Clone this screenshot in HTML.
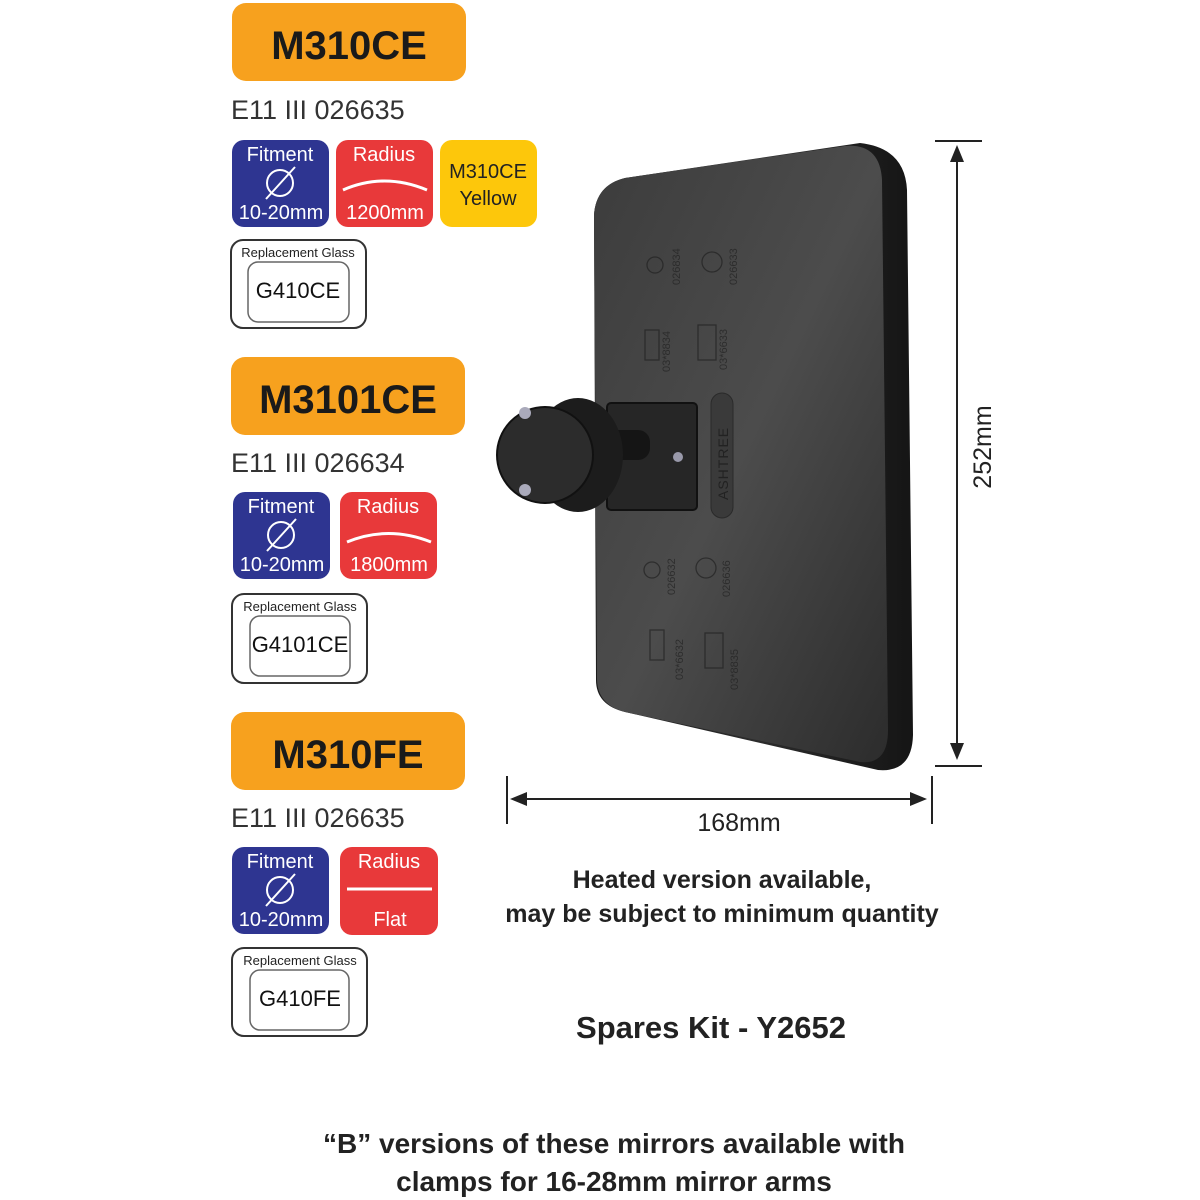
<!DOCTYPE html>
<html><head><meta charset="utf-8"><style>
html,body{margin:0;padding:0;background:#fff;}
svg{display:block;font-family:"Liberation Sans",sans-serif;}
</style></head><body>
<svg width="1200" height="1200" viewBox="0 0 1200 1200" xmlns="http://www.w3.org/2000/svg">
<defs>
<linearGradient id="face" x1="0" y1="0" x2="1" y2="1">
<stop offset="0" stop-color="#3c3c3c"/><stop offset="0.5" stop-color="#4c4c4c"/><stop offset="1" stop-color="#2c2c2c"/>
</linearGradient>
<linearGradient id="side" x1="0" y1="0" x2="1" y2="0">
<stop offset="0" stop-color="#1a1a1a"/><stop offset="0.5" stop-color="#2c2c2c"/><stop offset="1" stop-color="#151515"/>
</linearGradient>
<g id="fit">
<rect x="0" y="0" width="97" height="87" rx="12" fill="#2e3591"/>
<text x="48" y="21" font-size="20" fill="#fff" text-anchor="middle">Fitment</text>
<circle cx="48" cy="43" r="13" fill="none" stroke="#fff" stroke-width="2"/>
<line x1="34" y1="59" x2="63" y2="27" stroke="#fff" stroke-width="2"/>
<text x="49" y="79" font-size="20" fill="#fff" text-anchor="middle">10-20mm</text>
</g>
</defs>

<!-- Section 1 -->
<rect x="232" y="3" width="234" height="78" rx="14" fill="#f7a11e"/>
<text x="349" y="59" font-size="40" font-weight="bold" fill="#1a1a1a" text-anchor="middle">M310CE</text>
<text x="231" y="119" font-size="27" fill="#333">E11 III 026635</text>
<use href="#fit" x="232" y="140"/>
<rect x="336" y="140" width="97" height="87" rx="12" fill="#e8393a"/>
<text x="384" y="161" font-size="20" fill="#fff" text-anchor="middle">Radius</text>
<path d="M343,190 Q384,172 427,190" fill="none" stroke="#fff" stroke-width="3"/>
<text x="385" y="219" font-size="20" fill="#fff" text-anchor="middle">1200mm</text>
<rect x="440" y="140" width="97" height="87" rx="12" fill="#fdc70b"/>
<text x="488" y="178" font-size="20" fill="#222" text-anchor="middle">M310CE</text>
<text x="488" y="205" font-size="20" fill="#222" text-anchor="middle">Yellow</text>
<rect x="231" y="240" width="135" height="88" rx="12" fill="#fff" stroke="#333" stroke-width="2"/>
<text x="298" y="257" font-size="13" fill="#222" text-anchor="middle">Replacement Glass</text>
<rect x="248" y="262" width="101" height="60" rx="10" fill="#fff" stroke="#666" stroke-width="1.5"/>
<text x="298" y="298" font-size="22" fill="#111" text-anchor="middle">G410CE</text>

<!-- Section 2 -->
<rect x="231" y="357" width="234" height="78" rx="14" fill="#f7a11e"/>
<text x="348" y="413" font-size="40" font-weight="bold" fill="#1a1a1a" text-anchor="middle">M3101CE</text>
<text x="231" y="472" font-size="27" fill="#333">E11 III 026634</text>
<use href="#fit" x="233" y="492"/>
<rect x="340" y="492" width="97" height="87" rx="12" fill="#e8393a"/>
<text x="388" y="513" font-size="20" fill="#fff" text-anchor="middle">Radius</text>
<path d="M347,542 Q388,525 431,542" fill="none" stroke="#fff" stroke-width="3"/>
<text x="389" y="571" font-size="20" fill="#fff" text-anchor="middle">1800mm</text>
<rect x="232" y="594" width="135" height="89" rx="12" fill="#fff" stroke="#333" stroke-width="2"/>
<text x="300" y="611" font-size="13" fill="#222" text-anchor="middle">Replacement Glass</text>
<rect x="250" y="616" width="100" height="60" rx="10" fill="#fff" stroke="#666" stroke-width="1.5"/>
<text x="300" y="652" font-size="22" fill="#111" text-anchor="middle">G4101CE</text>

<!-- Section 3 -->
<rect x="231" y="712" width="234" height="78" rx="14" fill="#f7a11e"/>
<text x="348" y="768" font-size="40" font-weight="bold" fill="#1a1a1a" text-anchor="middle">M310FE</text>
<text x="231" y="827" font-size="27" fill="#333">E11 III 026635</text>
<use href="#fit" x="232" y="847"/>
<rect x="340" y="847" width="98" height="88" rx="12" fill="#e8393a"/>
<text x="389" y="868" font-size="20" fill="#fff" text-anchor="middle">Radius</text>
<line x1="347" y1="889" x2="432" y2="889" stroke="#fff" stroke-width="3"/>
<text x="390" y="926" font-size="20" fill="#fff" text-anchor="middle">Flat</text>
<rect x="232" y="948" width="135" height="88" rx="12" fill="#fff" stroke="#333" stroke-width="2"/>
<text x="300" y="965" font-size="13" fill="#222" text-anchor="middle">Replacement Glass</text>
<rect x="250" y="970" width="99" height="60" rx="10" fill="#fff" stroke="#666" stroke-width="1.5"/>
<text x="300" y="1006" font-size="22" fill="#111" text-anchor="middle">G410FE</text>

<!-- Mirror -->
<path d="M860,143 Q905,148 907,190 L913,735 Q912,773 878,770 L625,712 Q596,705 596,680 L594,215 Q596,185 625,178 Z" fill="url(#side)"/>
<path d="M625,178 L845,146 Q880,143 882,180 L888,730 Q888,765 860,762 L625,712 Q598,705 597,680 L594,215 Q596,185 625,178 Z" fill="url(#face)"/>
<g fill="none" stroke="#222" stroke-width="1.3" opacity="0.7">
<circle cx="655" cy="265" r="8"/><circle cx="712" cy="262" r="10"/>
<rect x="645" y="330" width="14" height="30"/><rect x="698" y="325" width="18" height="35"/>
<circle cx="652" cy="570" r="8"/><circle cx="706" cy="568" r="10"/>
<rect x="650" y="630" width="14" height="30"/><rect x="705" y="633" width="18" height="35"/>
</g>
<g fill="#222" font-size="11" opacity="0.7">
<text transform="translate(680,285) rotate(-90)">026834</text>
<text transform="translate(737,285) rotate(-90)">026633</text>
<text transform="translate(670,372) rotate(-90)">03*8834</text>
<text transform="translate(727,370) rotate(-90)">03*6633</text>
<text transform="translate(675,595) rotate(-90)">026632</text>
<text transform="translate(730,597) rotate(-90)">026636</text>
<text transform="translate(683,680) rotate(-90)">03*6632</text>
<text transform="translate(738,690) rotate(-90)">03*8835</text>
</g>
<rect x="711" y="393" width="22" height="125" rx="11" fill="#3a3a3a" stroke="#2a2a2a"/>
<text transform="translate(728,500) rotate(-90)" font-size="14" fill="#222" letter-spacing="1">ASHTREE</text>
<rect x="607" y="403" width="90" height="107" rx="4" fill="#262626" stroke="#111" stroke-width="2"/>
<rect x="600" y="430" width="50" height="30" rx="12" fill="#151515"/>
<circle cx="678" cy="457" r="5" fill="#99a"/>
<ellipse cx="578" cy="455" rx="45" ry="57" fill="#1c1c1c"/>
<circle cx="545" cy="455" r="48" fill="#2c2c2c" stroke="#111" stroke-width="2"/>
<circle cx="525" cy="413" r="6" fill="#aab"/>
<circle cx="525" cy="490" r="6" fill="#aab"/>

<!-- Dimensions -->
<g stroke="#222" stroke-width="2" fill="#222">
<line x1="935" y1="141" x2="982" y2="141"/>
<line x1="935" y1="766" x2="982" y2="766"/>
<line x1="957" y1="160" x2="957" y2="745"/>
<path d="M950,162 L957,145 L964,162 Z" stroke="none"/>
<path d="M950,743 L957,760 L964,743 Z" stroke="none"/>
<line x1="507" y1="776" x2="507" y2="824"/>
<line x1="932" y1="776" x2="932" y2="824"/>
<line x1="525" y1="799" x2="912" y2="799"/>
<path d="M527,792 L510,799 L527,806 Z" stroke="none"/>
<path d="M910,792 L927,799 L910,806 Z" stroke="none"/>
</g>
<text transform="translate(991,447) rotate(-90)" font-size="25" fill="#222" text-anchor="middle">252mm</text>
<text x="739" y="831" font-size="25" fill="#222" text-anchor="middle">168mm</text>

<text x="722" y="888" font-size="25" font-weight="bold" fill="#222" text-anchor="middle">Heated version available,</text>
<text x="722" y="922" font-size="25" font-weight="bold" fill="#222" text-anchor="middle">may be subject to minimum quantity</text>
<text x="711" y="1038" font-size="31" font-weight="bold" fill="#222" text-anchor="middle">Spares Kit - Y2652</text>
<text x="614" y="1153" font-size="28" font-weight="bold" fill="#222" text-anchor="middle">“B” versions of these mirrors available with</text>
<text x="614" y="1191" font-size="28" font-weight="bold" fill="#222" text-anchor="middle">clamps for 16-28mm mirror arms</text>
</svg>
</body></html>
